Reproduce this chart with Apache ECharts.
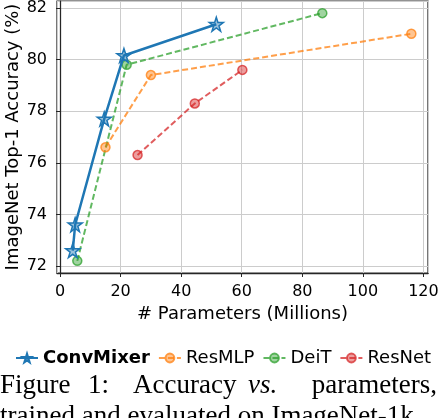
<!DOCTYPE html>
<html>
<head>
<meta charset="utf-8">
<script src="https://cdn.jsdelivr.net/npm/echarts@6/dist/echarts.min.js"></script>
<style>
	html, body { margin: 0; padding: 0; background: #fff; }
	#chart { width: 440px; height: 418px; }
</style>
</head>
<body>
<div id="chart"></div>
<script>
// parameters (millions) and top-1 accuracy
var convMixerParams = [4.2, 5.0, 14.6, 21.1, 51.6]
var convMixerAcc = [72.6, 73.6, 77.7, 80.16, 81.37]
var resMlpParams = [15, 30, 116]
var resMlpAcc = [76.6, 79.4, 81.0]
var deitParams = [5.7, 22, 86.6]
var deitAcc = [72.2, 79.8, 81.8]
var resNetParams = [25.6, 44.5, 60.2]
var resNetAcc = [76.3, 78.3, 79.6]

var starPath = 'path://M50,2 L61,36 L97,36 L68,57 L79,92 L50,71 L21,92 L32,57 L3,36 L39,36 Z'

function pairs(xs, ys) {
	var out = []
	for (var i = 0; i < xs.length; i++) {
		out.push([xs[i], ys[i]])
	}
	return out
}

function dashedSeries(name, color, fill, xs, ys) {
	return {
		name: name,
		type: 'line',
		data: pairs(xs, ys),
		symbol: 'circle',
		symbolSize: 9,
		lineStyle: { color: color, width: 2, type: [6, 3] },
		itemStyle: { color: fill, borderColor: color, borderWidth: 1.5 },
		emphasis: { disabled: true },
	}
}

var myChart = echarts.init(document.getElementById('chart'))
var tickFont = { fontFamily: 'DejaVu Sans', fontSize: 16, color: '#000' }
var labelFont = { fontFamily: 'DejaVu Sans', fontSize: 18, color: '#000' }
var captionFont = '27px "Liberation Serif"'

var option = {
	animation: false,
	grid: {
		left: 57,
		right: 12,
		top: 1,
		bottom: 145,
		outerBoundsMode: 'none',
		containLabel: false,
		show: true,
		borderColor: '#262626',
		borderWidth: 1.25,
	},
	legend: {
		left: 10,
		top: 344,
		width: 430,
		itemWidth: 22,
		itemHeight: 11,
		itemGap: 8,
		textStyle: labelFont,
		data: [
			{ name: 'ConvMixer', textStyle: { fontWeight: 'bold' } },
			'ResMLP',
			'DeiT',
			'ResNet',
		],
	},
	xAxis: {
		type: 'value',
		min: -1,
		max: 121.5,
		name: '# Parameters (Millions)',
		nameLocation: 'middle',
		nameGap: 31,
		nameTextStyle: labelFont,
		axisLine: { show: true, lineStyle: { color: '#262626', width: 1.25 } },
		axisTick: { show: true, length: 4, lineStyle: { color: '#262626' } },
		axisLabel: Object.assign({ margin: 11, showMinLabel: false, showMaxLabel: false }, tickFont),
		splitLine: { show: true, lineStyle: { color: '#cccccc', width: 1 } },
	},
	yAxis: {
		type: 'value',
		min: 71.73,
		max: 82.27,
		axisLine: { show: true, lineStyle: { color: '#262626', width: 1.25 } },
		axisTick: { show: true, length: 4, lineStyle: { color: '#262626' } },
		axisLabel: Object.assign({ margin: 10, showMinLabel: false, showMaxLabel: false }, tickFont),
		splitLine: { show: true, lineStyle: { color: '#cccccc', width: 1 } },
	},
	series: [
		dashedSeries('ResMLP', 'rgba(255,127,14,0.75)', 'rgba(255,127,14,0.45)', resMlpParams, resMlpAcc),
		dashedSeries('DeiT', 'rgba(44,160,44,0.75)', 'rgba(44,160,44,0.45)', deitParams, deitAcc),
		dashedSeries('ResNet', 'rgba(214,39,40,0.75)', 'rgba(214,39,40,0.45)', resNetParams, resNetAcc),
		{
			name: 'ConvMixer',
			type: 'line',
			data: pairs(convMixerParams, convMixerAcc),
			symbol: starPath,
			symbolSize: 14,
			z: 5,
			lineStyle: { color: '#1f77b4', width: 2.5 },
			itemStyle: { color: 'rgba(31,119,180,0.45)', borderColor: '#1f77b4', borderWidth: 1.5 },
			emphasis: { disabled: true },
		},
	],
	graphic: [
		{
			type: 'text',
			x: 13,
			y: 137,
			rotation: Math.PI / 2,
			style: {
				text: 'ImageNet Top-1 Accuracy (%)',
				font: '18px "DejaVu Sans"',
				fill: '#000',
				align: 'center',
				verticalAlign: 'middle',
			},
		},
		{ type: 'text', left: 0, top: 372, style: { text: 'Figure', font: captionFont, fill: '#000' } },
		{ type: 'text', left: 88, top: 372, style: { text: '1:', font: captionFont, fill: '#000' } },
		{ type: 'text', left: 133, top: 372, style: { text: 'Accuracy', font: captionFont, fill: '#000' } },
		{ type: 'text', left: 248, top: 372, style: { text: 'vs.', font: 'italic ' + captionFont, fill: '#000' } },
		{ type: 'text', right: 3, top: 372, style: { text: 'parameters,', font: captionFont, fill: '#000' } },
		{ type: 'text', left: 0, top: 403, style: { text: 'trained and evaluated on ImageNet-1k.', font: captionFont, fill: '#000' } },
	],
}

option && myChart.setOption(option)
</script>
</body>
</html>
